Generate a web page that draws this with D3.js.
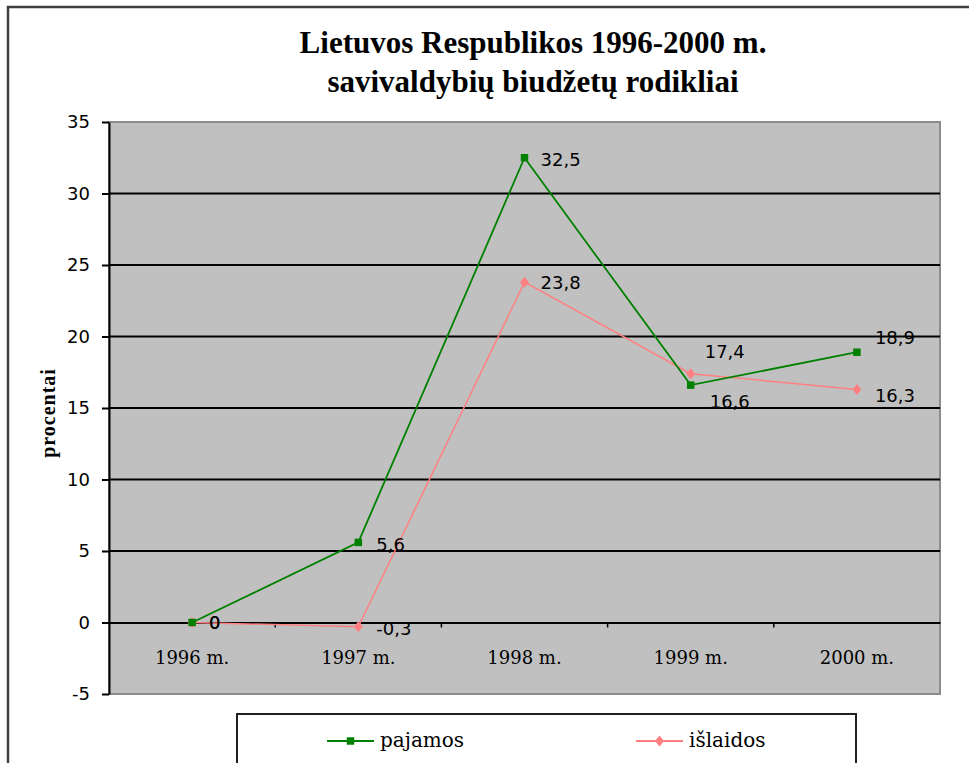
<!DOCTYPE html>
<html>
<head>
<meta charset="utf-8">
<script src="https://cdn.jsdelivr.net/npm/d3@7"></script>
<style>
  body { margin: 0; background: #fff; }
  svg { display: block; }
</style>
</head>
<body>
<div id="chart"></div>
<script>
// data
const categories = ["1996 m.", "1997 m.", "1998 m.", "1999 m.", "2000 m."];
const pajamos = [0, 5.6, 32.5, 16.6, 18.9];
const islaidos = [0, -0.3, 23.8, 17.4, 16.3];
const yTicks = [-5, 0, 5, 10, 15, 20, 25, 30, 35];
const seriesNames = ["pajamos", "išlaidos"];
const titleLines = ["Lietuvos Respublikos 1996-2000 m.", "savivaldybių biudžetų rodikliai"];

// manual nudges of the value labels (as in the original)
const pajLabelShift = [[17, 0], [18, 2], [16, 2], [19, 16], [18, -15]];
const islLabelShift = [[17, 0], [18, 2], [16, 0], [14, -22], [18, 6]];

const W = 969, H = 763;
const plot = { left: 109, right: 940, top: 122, bottom: 694 };

const svg = d3.select("#chart")
  .append("svg")
  .attr("width", W)
  .attr("height", H);

// outer chart frame
svg.append("rect")
  .attr("x", 8).attr("y", 7)
  .attr("width", 1000).attr("height", 800)
  .attr("fill", "#fff")
  .attr("stroke", "#404040")
  .attr("stroke-width", 2.5);

// title
svg.append("g")
  .selectAll("text")
  .data(titleLines)
  .enter().append("text")
  .attr("x", 533)
  .attr("y", (d, i) => 53 + i * 39)
  .attr("text-anchor", "middle")
  .attr("font-family", "'Liberation Serif', 'Times New Roman', serif")
  .attr("font-weight", "bold")
  .attr("font-size", 31)
  .text(d => d);

// scales
const x = d3.scaleBand()
  .domain(categories)
  .range([plot.left, plot.right]);

const y = d3.scaleLinear()
  .domain([-5, 35])
  .range([plot.bottom, plot.top]);

// plot area
svg.append("rect")
  .attr("x", plot.left).attr("y", plot.top)
  .attr("width", plot.right - plot.left)
  .attr("height", plot.bottom - plot.top)
  .attr("fill", "#c0c0c0")
  .attr("stroke", "#8c8c8c")
  .attr("stroke-width", 2);

// gridlines
svg.append("g")
  .selectAll("line")
  .data(yTicks.filter(d => d > 0 && d < 35))
  .enter().append("line")
  .attr("x1", plot.left).attr("x2", plot.right)
  .attr("y1", d => y(d)).attr("y2", d => y(d))
  .attr("stroke", "#000")
  .attr("stroke-width", 2);

// Y axis
const yAxis = svg.append("g")
  .attr("transform", `translate(${plot.left},0)`)
  .call(d3.axisLeft(y)
    .tickValues(yTicks)
    .tickFormat(d => String(d))
    .tickSize(7).tickPadding(12).tickSizeOuter(0));
yAxis.select(".domain").attr("stroke", "#000").attr("stroke-width", 2);
yAxis.selectAll(".tick line").attr("stroke", "#000").attr("stroke-width", 2);
yAxis.selectAll("text")
  .attr("font-family", "'DejaVu Sans', Verdana, sans-serif")
  .attr("font-size", 18)
  .attr("fill", "#000");

// X axis sits on the zero line
const xAxis = svg.append("g")
  .attr("transform", `translate(0,${y(0)})`)
  .call(d3.axisBottom(x).tickSize(0).tickPadding(29).tickSizeOuter(0));
xAxis.select(".domain").attr("stroke", "#000").attr("stroke-width", 2);
xAxis.selectAll("text")
  .attr("font-family", "'DejaVu Serif', serif")
  .attr("font-size", 18)
  .attr("fill", "#000");
// small tick marks between categories
xAxis.selectAll(".sep")
  .data(categories.slice(1))
  .enter().append("line")
  .attr("class", "sep")
  .attr("x1", d => x(d)).attr("x2", d => x(d))
  .attr("y1", 0).attr("y2", 5)
  .attr("stroke", "#000")
  .attr("stroke-width", 1.5);

// Y axis title
svg.append("text")
  .attr("transform", "translate(55,413) rotate(-90)")
  .attr("text-anchor", "middle")
  .attr("font-family", "'Liberation Serif', 'Times New Roman', serif")
  .attr("font-weight", "bold")
  .attr("font-size", 20)
  .attr("letter-spacing", 1)
  .text("procentai");

const cx = d => x(d) + x.bandwidth() / 2;
const line = d3.line()
  .x((d, i) => cx(categories[i]))
  .y(d => y(d));

const diamond = "M0,-5.5L4.5,0L0,5.5L-4.5,0Z";

const series = [
  { name: seriesNames[0], values: pajamos, color: "#008000", width: 1.8, shift: pajLabelShift, marker: d3.symbol(d3.symbolSquare, 56)() },
  { name: seriesNames[1], values: islaidos, color: "#ff8080", width: 1.5, shift: islLabelShift, marker: diamond }
];

// draw islaidos first so pajamos sits on top
series.slice().reverse().forEach(s => {
  const g = svg.append("g");
  g.append("path")
    .datum(s.values)
    .attr("d", line)
    .attr("fill", "none")
    .attr("stroke", s.color)
    .attr("stroke-width", s.width);
  g.selectAll("path.m")
    .data(s.values)
    .enter().append("path")
    .attr("class", "m")
    .attr("d", s.marker)
    .attr("transform", (d, i) => `translate(${cx(categories[i])},${y(d)})`)
    .attr("fill", s.color);
});

// value labels
series.forEach(s => {
  svg.append("g")
    .selectAll("text")
    .data(s.values)
    .enter().append("text")
    .attr("x", (d, i) => cx(categories[i]) + s.shift[i][0])
    .attr("y", (d, i) => y(d) + s.shift[i][1])
    .attr("dy", "0.36em")
    .attr("font-family", "'DejaVu Sans', Verdana, sans-serif")
    .attr("font-size", 18)
    .attr("fill", "#000")
    .text(d => String(d).replace(".", ","));
});

// legend
const legend = svg.append("g");
legend.append("rect")
  .attr("x", 237).attr("y", 714)
  .attr("width", 619).attr("height", 100)
  .attr("fill", "#fff")
  .attr("stroke", "#202020")
  .attr("stroke-width", 2);

const legendX = [327, 636];
series.forEach((s, i) => {
  const lg = legend.append("g").attr("transform", `translate(${legendX[i]},741)`);
  lg.append("line")
    .attr("x1", 0).attr("x2", 47)
    .attr("y1", 0).attr("y2", 0)
    .attr("stroke", s.color)
    .attr("stroke-width", 2);
  lg.append("path")
    .attr("d", s.marker)
    .attr("transform", "translate(23.5,0)")
    .attr("fill", s.color);
  lg.append("text")
    .attr("x", 53)
    .attr("dy", "0.32em")
    .attr("font-family", "'DejaVu Serif', serif")
    .attr("font-size", 20)
    .text(s.name);
});
</script>
</body>
</html>
